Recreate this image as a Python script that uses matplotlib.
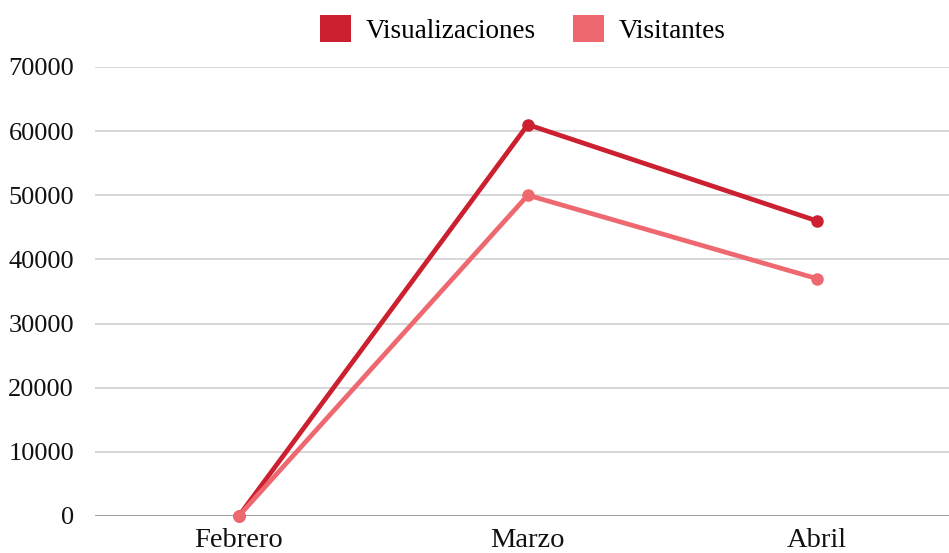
import matplotlib.pyplot as plt
from matplotlib.patches import Patch

plt.rcParams['font.family'] = ['Liberation Serif', 'DejaVu Serif']

meses = ['Febrero', 'Marzo', 'Abril']
visualizaciones = [0, 61000, 46000]
visitantes = [0, 50000, 37000]
y_ticks = [0, 10000, 20000, 30000, 40000, 50000, 60000, 70000]

color_vis = '#cc1f2f'
color_visit = '#ee6870'

fig = plt.figure(figsize=(9.49, 5.53), dpi=100)
ax = fig.add_axes([0.1, 0.067, 0.9, 0.812])

x = range(len(meses))
ax.plot(x, visualizaciones, color=color_vis, lw=3.4, marker='o', ms=8,
        solid_capstyle='round', zorder=4, clip_on=False)
ax.plot(x, visitantes, color=color_visit, lw=3.4, marker='o', ms=8,
        solid_capstyle='round', zorder=5, clip_on=False)

ax.set_xlim(-0.498, 2.457)
ax.set_ylim(0, 70000)
ax.set_yticks(y_ticks)
ax.set_yticklabels([str(v) for v in y_ticks])
ax.set_xticks(list(x))
ax.set_xticklabels(meses)

for v in y_ticks[1:]:
    ax.axhline(v, color='#cccccc', lw=1.1, zorder=1)
ax.axhline(0, color='#999999', lw=1.3, zorder=2)

for s in ax.spines.values():
    s.set_visible(False)
ax.tick_params(axis='both', length=0, colors='#111111')
ax.tick_params(axis='y', pad=15, labelsize=19)
ax.tick_params(axis='x', pad=9, labelsize=20.5)

handles = [Patch(facecolor=color_vis, label='Visualizaciones'),
           Patch(facecolor=color_visit, label='Visitantes')]
fig.legend(handles=handles, loc='center', bbox_to_anchor=(0.5506, 0.947),
           ncol=2, frameon=False, fontsize=19.5, handlelength=1.15,
           handleheight=1.15, handletextpad=0.55, columnspacing=1.36,
           borderpad=0)

fig.savefig('out.png', dpi=100, facecolor='white')
